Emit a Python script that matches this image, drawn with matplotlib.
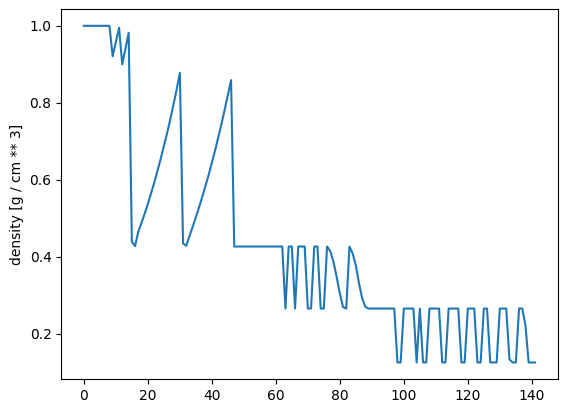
import matplotlib
matplotlib.use("Agg")
import matplotlib.pyplot as plt

# density per step
head = [1.0, 1.0, 1.0, 1.0, 1.0, 1.0, 1.0, 1.0, 1.0,
        0.921, 0.958, 0.995, 0.900, 0.941, 0.982, 0.440, 0.428]
ramp_1 = [0.465, 0.488, 0.512, 0.538, 0.565, 0.593, 0.623, 0.654,
          0.687, 0.721, 0.757, 0.795, 0.835, 0.878]
dip_1 = [0.435, 0.429]
ramp_2 = [0.454, 0.478, 0.503, 0.529, 0.556, 0.584, 0.613, 0.644,
          0.676, 0.710, 0.745, 0.782, 0.820, 0.859]
plateau = [0.427] * 16
mid = [0.266, 0.427, 0.427, 0.266, 0.427, 0.427, 0.427, 0.266, 0.266,
       0.427, 0.427, 0.266, 0.266, 0.427, 0.415, 0.388, 0.348, 0.305,
       0.270, 0.266, 0.427, 0.409, 0.378, 0.331, 0.292, 0.270]
low = [0.266] * 9
tail = [0.126, 0.126, 0.266, 0.266, 0.266, 0.266, 0.126, 0.266, 0.126,
        0.126, 0.266, 0.266, 0.266, 0.266, 0.126, 0.126, 0.266, 0.266,
        0.266, 0.266, 0.126, 0.126, 0.266, 0.266, 0.266, 0.126, 0.126,
        0.266, 0.266, 0.126, 0.126, 0.126, 0.266, 0.266, 0.266, 0.134,
        0.126, 0.126, 0.266, 0.266, 0.223, 0.126, 0.126, 0.126]

density = head + ramp_1 + dip_1 + ramp_2 + plateau + mid + low + tail
steps = list(range(len(density)))

fig = plt.figure(figsize=(5.67, 4.13), dpi=100)
ax = fig.add_axes([61.3 / 567, (413 - 379.3) / 413, 496.3 / 567, 370.3 / 413])
ax.plot(steps, density, color="#1f77b4", linewidth=1.5)
ax.set_ylabel("density [g / cm ** 3]")
ax.set_yticks([0.2, 0.4, 0.6, 0.8, 1.0])

fig.savefig("out.png", dpi=100)
